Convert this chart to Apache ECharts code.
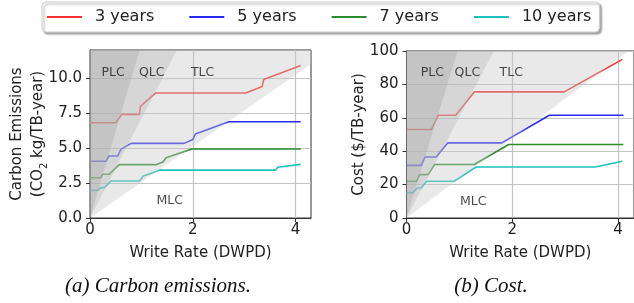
<!DOCTYPE html>
<html>
<head>
    <meta charset="UTF-8">
    <title>Carbon emissions and cost vs write rate</title>
    <script src="https://cdn.jsdelivr.net/npm/echarts@6/dist/echarts.min.js"></script>
    <style>
        body { margin: 0; background: #fff; }
        #chart { width: 634px; height: 303px; }
    </style>
</head>
<body>
    <div id="chart"></div>
    <script>
        // legend / series names
        const seriesNames = ['3 years', '5 years', '7 years', '10 years'];

        // (a) carbon emissions, [write rate, CO2 kg/TB-year]
        const carbon3y = [[0, 6.8], [0.5, 6.8], [0.62, 7.4], [0.96, 7.4], [0.98, 7.98], [1.28, 8.93], [3.03, 8.93], [3.35, 9.4], [3.38, 9.9], [4.1, 10.9]];
        const carbon5y = [[0, 4.05], [0.31, 4.05], [0.37, 4.43], [0.54, 4.43], [0.6, 4.9], [0.8, 5.33], [1.83, 5.33], [2.0, 5.6], [2.05, 6.0], [2.7, 6.88], [4.1, 6.88]];
        const carbon7y = [[0, 2.88], [0.21, 2.88], [0.25, 3.12], [0.37, 3.12], [0.57, 3.81], [1.28, 3.81], [1.42, 4.0], [1.48, 4.3], [1.98, 4.93], [4.1, 4.93]];
        const carbon10y = [[0, 1.98], [0.16, 1.98], [0.2, 2.17], [0.28, 2.17], [0.41, 2.64], [0.96, 2.64], [1.0, 2.8], [1.03, 2.98], [1.36, 3.42], [3.61, 3.42], [3.65, 3.62], [4.1, 3.83]];

        // (b) cost, [write rate, $/TB-year]
        const cost3y = [[0, 53], [0.47, 53], [0.6, 61.5], [0.93, 61.5], [1.28, 75.5], [2.98, 75.5], [4.08, 95]];
        const cost5y = [[0, 31.5], [0.28, 31.5], [0.35, 36.5], [0.56, 36.5], [0.78, 45], [1.8, 45], [2.7, 61.5], [4.1, 61.5]];
        const cost7y = [[0, 22], [0.19, 22], [0.25, 26], [0.41, 26], [0.53, 32], [1.28, 32], [1.93, 44], [4.1, 44]];
        const cost10y = [[0, 15.2], [0.13, 15.2], [0.2, 18], [0.28, 18], [0.38, 22], [0.9, 22], [1.31, 30.5], [3.57, 30.5], [4.08, 34]];

        // region boundaries through the origin (slope of y vs x): TLC/MLC, QLC/TLC, PLC/QLC
        const carbonSlopes = [2.56, 7.1, 12.4];
        const costSlopes = [23.8, 60.6, 103.6];

        // region labels with their data positions
        const regionNames = ['PLC', 'QLC', 'TLC', 'MLC'];
        const carbonLabelPos = [[0.45, 10.35], [1.2, 10.35], [2.19, 10.35], [1.55, 1.2]];
        const costLabelPos = [[0.49, 87], [1.15, 87], [1.98, 87], [1.26, 9.5]];

        // axis ranges / ticks
        const xMax = 4.3;
        const xTicks = [0, 2, 4];
        const carbonMax = 12;
        const carbonTicks = [0, 2.5, 5, 7.5, 10];
        const costMax = 100;

        const colors = ['#f53030', '#2a2af5', '#2a8c2a', '#1fc0c0'];
        const fillColors = ['rgba(200,200,200,0.4)', 'rgba(180,180,180,0.36)', 'rgba(160,160,160,0.33)'];

        const myChart = echarts.init(document.getElementById('chart'), null, { renderer: 'canvas' });

        function xAxisFor(gridIndex) {
            return {
                gridIndex: gridIndex,
                type: 'value',
                min: 0,
                max: xMax,
                interval: 2,
                name: 'Write Rate (DWPD)',
                nameLocation: 'middle',
                nameGap: 28,
                nameTextStyle: { fontSize: 15, color: '#222' },
                axisLine: { show: true, lineStyle: { color: '#333', width: 1 } },
                axisTick: { show: true, length: 4, customValues: xTicks, lineStyle: { color: '#333' } },
                axisLabel: { fontSize: 15, color: '#222', margin: 5, customValues: xTicks },
                splitLine: { show: true, lineStyle: { color: '#c4c4c4', width: 1.2 } }
            };
        }

        // wedge between the y axis and a ray from the origin, clipped to the plot box
        function wedgeSeries(gridIndex, slopes, ymax) {
            return {
                type: 'custom',
                xAxisIndex: gridIndex,
                yAxisIndex: gridIndex,
                z: 5,
                silent: true,
                data: slopes.map((s, i) => [0, 0, s, i]),
                renderItem: function (params, api) {
                    const s = api.value(2);
                    const xe = Math.min(xMax, ymax / s);
                    const pts = [[0, 0], [xe, s * xe]];
                    if (s * xe < ymax) pts.push([xMax, ymax]);
                    pts.push([0, ymax]);
                    return {
                        type: 'polygon',
                        shape: { points: pts.map(p => api.coord(p)) },
                        style: { fill: fillColors[api.value(3)] }
                    };
                }
            };
        }

        function labelSeries(gridIndex, positions) {
            return {
                type: 'scatter',
                xAxisIndex: gridIndex,
                yAxisIndex: gridIndex,
                z: 6,
                silent: true,
                symbolSize: 0,
                data: positions.map((p, i) => [p[0], p[1], regionNames[i]]),
                label: {
                    show: true,
                    position: 'inside',
                    formatter: p => p.value[2],
                    fontSize: 12.5,
                    color: '#1a1a1a'
                }
            };
        }

        function lineSeries(gridIndex, lists) {
            return lists.map((d, i) => ({
                name: seriesNames[i],
                type: 'line',
                xAxisIndex: gridIndex,
                yAxisIndex: gridIndex,
                data: d,
                symbol: 'none',
                z: 2,
                lineStyle: { color: colors[i], width: 1.6 },
                itemStyle: { color: colors[i] }
            }));
        }

        const option = {
            animation: false,
            textStyle: { fontFamily: 'DejaVu Sans' },
            legend: {
                data: seriesNames,
                icon: 'rect',
                left: 42,
                top: 2,
                itemWidth: 35,
                itemHeight: 2,
                itemGap: 35,
                padding: [7, 8, 7, 5],
                backgroundColor: '#fff',
                borderColor: '#cfcfcf',
                borderWidth: 1,
                borderRadius: 4,
                shadowColor: 'rgba(0,0,0,0.35)',
                shadowBlur: 2,
                shadowOffsetX: 2,
                shadowOffsetY: 2,
                textStyle: { fontSize: 16, color: '#222', padding: [0, 0, 0, 8] }
            },
            grid: [
                { left: 90, top: 50, width: 221, height: 168, show: true, borderColor: '#333', borderWidth: 1 },
                { left: 406.5, top: 51, width: 231, height: 167, show: true, borderColor: '#333', borderWidth: 1 }
            ],
            xAxis: [xAxisFor(0), xAxisFor(1)],
            yAxis: [
                {
                    gridIndex: 0,
                    type: 'value',
                    min: 0,
                    max: carbonMax,
                    interval: 2.5,
                    name: '{t|Carbon Emissions}\n{t|(CO}{s|2}{t| kg/TB-year)}',
                    nameLocation: 'middle',
                    nameGap: 41,
                    nameMoveOverlap: false,
                    nameTextStyle: {
                        color: '#222',
                        rich: {
                            t: { fontSize: 15, lineHeight: 21, color: '#222' },
                            s: { fontSize: 10, lineHeight: 21, verticalAlign: 'bottom', color: '#222' }
                        }
                    },
                    axisLine: { show: true, lineStyle: { color: '#333' } },
                    axisTick: { show: true, length: 4, customValues: carbonTicks, lineStyle: { color: '#333' } },
                    axisLabel: { fontSize: 15, color: '#222', margin: 8, customValues: carbonTicks, formatter: v => v.toFixed(1) },
                    splitLine: { show: true, lineStyle: { color: '#c4c4c4', width: 1.2 } }
                },
                {
                    gridIndex: 1,
                    type: 'value',
                    min: 0,
                    max: costMax,
                    interval: 20,
                    name: 'Cost ($/TB-year)',
                    nameLocation: 'middle',
                    nameGap: 40,
                    nameMoveOverlap: false,
                    nameTextStyle: { fontSize: 15, color: '#222' },
                    axisLine: { show: true, lineStyle: { color: '#333' } },
                    axisTick: { show: true, length: 4, lineStyle: { color: '#333' } },
                    axisLabel: { fontSize: 15, color: '#222', margin: 8 },
                    splitLine: { show: true, lineStyle: { color: '#c4c4c4', width: 1.2 } }
                }
            ],
            series: [
                ...lineSeries(0, [carbon3y, carbon5y, carbon7y, carbon10y]),
                ...lineSeries(1, [cost3y, cost5y, cost7y, cost10y]),
                wedgeSeries(0, carbonSlopes, carbonMax),
                wedgeSeries(1, costSlopes, costMax),
                labelSeries(0, carbonLabelPos),
                labelSeries(1, costLabelPos)
            ],
            graphic: [
                {
                    type: 'text', x: 158, y: 286,
                    style: { text: '(a) Carbon emissions.', font: 'italic 21px "Liberation Serif"', fill: '#111', textAlign: 'center', textVerticalAlign: 'middle' }
                },
                {
                    type: 'text', x: 491, y: 286,
                    style: { text: '(b) Cost.', font: 'italic 21px "Liberation Serif"', fill: '#111', textAlign: 'center', textVerticalAlign: 'middle' }
                }
            ]
        };

        myChart.setOption(option);
        window.addEventListener('resize', () => myChart.resize());
    </script>
</body>
</html>
